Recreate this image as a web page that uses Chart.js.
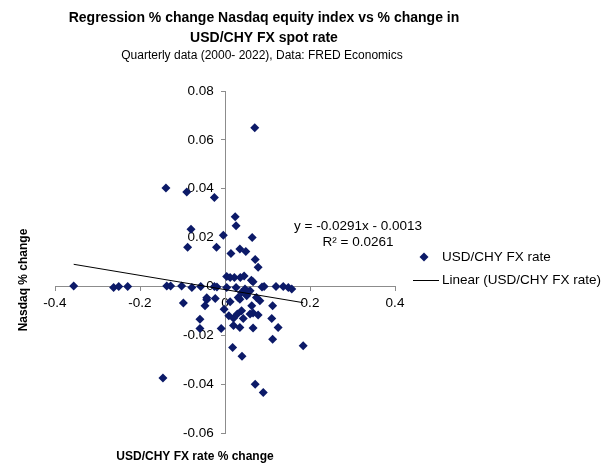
<!DOCTYPE html>
<html>
<head>
<meta charset="utf-8">
<script src="https://cdn.jsdelivr.net/npm/chart.js@4"></script>
<style>
  body { margin: 0; background: #fff; }
  #wrap { width: 611px; height: 469px; position: relative; }
</style>
</head>
<body>
<div id="wrap"><canvas id="regChart"></canvas></div>
<script>
// Quarterly % changes (2000-2022)
const fxChange = [
  0.070, -0.139, -0.090, -0.025, 0.024, 0.026, -0.080, -0.004, 0.064, -0.088,
  -0.020, 0.014, 0.035, 0.049, 0.071, 0.078,
  0.004, 0.012, 0.022, 0.036, 0.045, 0.062, 0.066, 0.087,
  -0.356, -0.262, -0.250, -0.229, -0.137, -0.128, -0.102, -0.078, -0.057, -0.025,
  -0.019, 0.004, 0.026, 0.047, 0.092, 0.120, 0.137, 0.149, 0.157,
  -0.098, -0.043, -0.047, -0.059, -0.059, -0.043, -0.023, -0.002, 0.012, 0.009,
  0.020, 0.029, 0.039, 0.043, 0.020, 0.035, 0.066, 0.063, 0.066, 0.078,
  0.059, 0.082, 0.074, 0.051, 0.035, 0.039, 0.059, 0.110, 0.112, 0.125,
  0.112, 0.184, 0.018, 0.040, 0.071, 0.090, -0.146, -0.009, 0.031, 0.055
];
const nasdaqChange = [
  0.0650, 0.0403, 0.0387, 0.0364, 0.0285, 0.0248, 0.0234, 0.0210, 0.0200, 0.0160,
  0.0160, 0.0135, 0.0153, 0.0143, 0.0110, 0.0078,
  0.0041, 0.0037, 0.0037, 0.0037, 0.0043, 0.0025, 0.0019, -0.0002,
  0.0002, -0.0004, 0.0000, 0.0000, 0.0002, 0.0002, 0.0002, -0.0004, 0.0000, 0.0000,
  -0.0002, -0.0004, -0.0004, -0.0011, 0.0000, 0.0000, 0.0000, -0.0004, -0.0011,
  -0.0068, -0.0055, -0.0079, -0.0134, -0.0172, -0.0046, -0.0049, -0.0093, -0.0063, -0.0120,
  -0.0130, -0.0113, -0.0100, -0.0131, -0.0160, -0.0168, -0.0170, -0.0079, -0.0109, -0.0117,
  -0.0113, -0.0059, -0.0045, -0.0038, -0.0052, -0.0025, -0.0018, -0.0131, -0.0079, -0.0168,
  -0.0216, -0.0243, -0.0250, -0.0286, -0.0400, -0.0434, -0.0375, -0.0172, -0.0045, -0.0022
];

// Excel linear trendline
const trendSlope = -0.0291;
const trendIntercept = -0.0013;
const trendLabel = ['y = -0.0291x - 0.0013', 'R\u00b2 = 0.0261'];

// Axis tick ranges
const xTicks = { min: -0.4, max: 0.4, step: 0.2 };
const yTicks = { min: -0.06, max: 0.08, step: 0.02 };

const titleLines = ['Regression % change Nasdaq equity index vs % change in', 'USD/CHY FX spot rate'];
const subtitleText = 'Quarterly data (2000- 2022), Data: FRED Economics';
const xTitle = 'USD/CHY FX rate % change';
const yTitle = 'Nasdaq % change';
const seriesName = 'USD/CHY FX rate';

const NAVY = '#0c1a68';
const FONT = '"Liberation Sans", Arial, sans-serif';
const AXIS_GREY = '#8c8c8c';

const points = fxChange.map((x, i) => ({ x, y: nasdaqChange[i] }));
const xLo = Math.min(...fxChange);
const xHi = Math.max(...fxChange);
const trendPoints = [xLo, xHi].map(x => ({ x, y: trendSlope * x + trendIntercept }));

const fmt = v => String(Number(v.toFixed(2)));
// centred y axis ignores ticks.padding, so pad the label text itself
const fmtY = v => fmt(v) + '   ';

// Titles, axis titles, legend and equation drawn as canvas text
const textPlugin = {
  id: 'excelText',
  afterDraw(chart) {
    const ctx = chart.ctx;
    ctx.save();
    ctx.fillStyle = '#000';
    ctx.textBaseline = 'middle';

    ctx.textAlign = 'center';
    ctx.font = 'bold 14px ' + FONT;
    ctx.fillText(titleLines[0], 264, 18);
    ctx.fillText(titleLines[1], 264, 38);
    ctx.font = '12px ' + FONT;
    ctx.fillText(subtitleText, 262, 56);

    ctx.font = 'bold 12px ' + FONT;
    ctx.fillText(xTitle, 195, 457);
    ctx.save();
    ctx.translate(24, 280);
    ctx.rotate(-Math.PI / 2);
    ctx.fillText(yTitle, 0, 0);
    ctx.restore();

    ctx.font = '13.5px ' + FONT;
    ctx.fillText(trendLabel[0], 358, 226);
    ctx.fillText(trendLabel[1], 358, 242);

    // legend
    ctx.textAlign = 'left';
    ctx.fillText(seriesName, 442, 257);
    ctx.fillText('Linear (' + seriesName + ')', 442, 280);
    ctx.fillStyle = NAVY;
    ctx.beginPath();
    ctx.moveTo(424, 252.5);
    ctx.lineTo(428.5, 257);
    ctx.lineTo(424, 261.5);
    ctx.lineTo(419.5, 257);
    ctx.closePath();
    ctx.fill();
    ctx.strokeStyle = '#000';
    ctx.lineWidth = 1;
    ctx.beginPath();
    ctx.moveTo(413, 280.5);
    ctx.lineTo(439, 280.5);
    ctx.stroke();
    ctx.restore();
  }
};

new Chart(document.getElementById('regChart'), {
  type: 'scatter',
  data: {
    datasets: [
      {
        type: 'line',
        label: 'Linear (' + seriesName + ')',
        data: trendPoints,
        borderColor: '#000',
        borderWidth: 1,
        pointRadius: 0,
        fill: false
      },
      {
        label: seriesName,
        data: points,
        pointStyle: 'rectRot',
        pointRadius: 4.5,
        pointBackgroundColor: NAVY,
        pointBorderColor: NAVY,
        pointBorderWidth: 0
      }
    ]
  },
  options: {
    responsive: true,
    maintainAspectRatio: false,
    animation: false,
    layout: { padding: { left: 55, right: 216, top: 91, bottom: 36 } },
    plugins: {
      legend: { display: false },
      tooltip: { enabled: false }
    },
    scales: {
      x: {
        type: 'linear',
        min: xTicks.min,
        max: xTicks.max,
        position: { y: 0 },
        afterFit: s => { s.height = 0; },
        ticks: {
          stepSize: xTicks.step,
          callback: fmt,
          color: '#000',
          padding: 5,
          font: { family: FONT, size: 13.5 }
        },
        grid: { drawOnChartArea: false, tickLength: 4, color: AXIS_GREY },
        border: { color: AXIS_GREY }
      },
      y: {
        min: yTicks.min,
        max: yTicks.max,
        position: { x: 0 },
        afterFit: s => { s.width = 0; },
        ticks: {
          stepSize: yTicks.step,
          callback: fmtY,
          color: '#000',
          font: { family: FONT, size: 13.5 }
        },
        grid: { drawOnChartArea: false, tickLength: 4, color: AXIS_GREY },
        border: { color: AXIS_GREY }
      }
    }
  },
  plugins: [textPlugin]
});
</script>
</body>
</html>
